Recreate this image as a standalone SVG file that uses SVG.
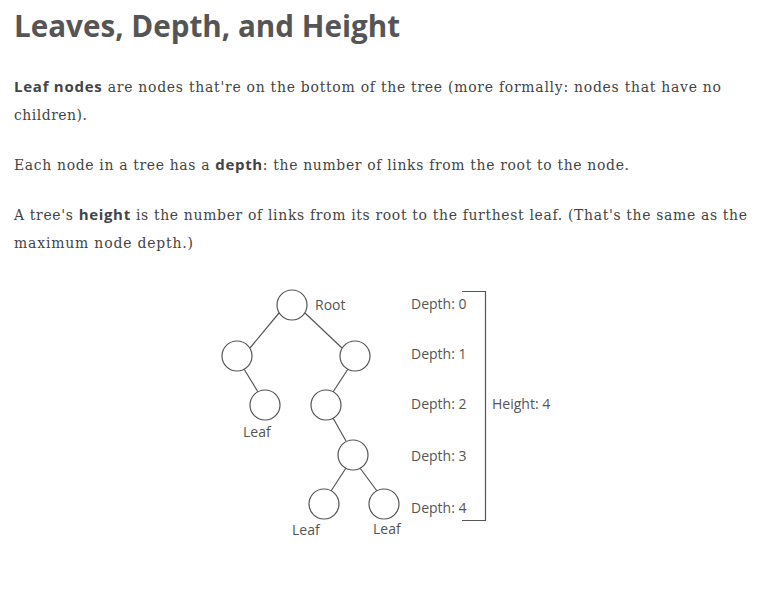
<svg xmlns="http://www.w3.org/2000/svg" width="766" height="607" viewBox="0 0 766 607">
<style>
.h{font-family:"Open Sans",Lato,sans-serif;font-weight:bold;font-size:30px;fill:#555}
.p{font-family:"DejaVu Serif Condensed","Liberation Serif",serif;font-size:15.5px;fill:#444}
.b{font-family:"Open Sans",sans-serif;font-weight:bold;font-size:15px}
.l{font-family:"Open Sans",sans-serif;font-size:14px;fill:#555}
.n circle{fill:#fff;stroke:#555;stroke-width:1.2}
.c line,.c path{stroke:#555;stroke-width:1.2;fill:none}
</style>
<rect width="766" height="607" fill="#fff"/>
<text class="h" x="14" y="37" textLength="386" lengthAdjust="spacingAndGlyphs">Leaves, Depth, and Height</text>
<text class="p" x="14" y="92" textLength="707"><tspan class="b">Leaf nodes</tspan> are nodes that're on the bottom of the tree (more formally: nodes that have no</text>
<text class="p" x="14" y="120" textLength="73">children).</text>
<text class="p" x="14" y="170" textLength="615"><tspan>Each node in a tree has a </tspan><tspan class="b">depth</tspan>: the number of links from the root to the node.</text>
<text class="p" x="14" y="220" textLength="733">A tree's <tspan class="b">height</tspan> is the number of links from its root to the furthest leaf. (That's the same as the</text>
<text class="p" x="14" y="248" textLength="179">maximum node depth.)</text>
<g class="c" id="connectors">
<line x1="279" y1="313" x2="250" y2="348"/>
<line x1="305" y1="313" x2="342" y2="348"/>
<line x1="244" y1="369" x2="258" y2="392"/>
<line x1="348" y1="369" x2="333" y2="392"/>
<line x1="333" y1="418" x2="346" y2="441"/>
<line x1="346" y1="468" x2="331" y2="491"/>
<line x1="360" y1="468" x2="377" y2="491"/>
<path d="M462 291.5H485.5V520.5H462"/>
</g>
<g class="n" id="root"><circle cx="292" cy="305" r="15"/><text class="l" x="315" y="310">Root</text></g>
<g class="n" id="n1"><circle cx="237" cy="356" r="15"/></g>
<g class="n" id="n2"><circle cx="355" cy="356" r="15"/></g>
<g class="n" id="n3"><circle cx="265" cy="405" r="15"/><text class="l" x="243" y="437">Leaf</text></g>
<g class="n" id="n4"><circle cx="326" cy="405" r="15"/></g>
<g class="n" id="n5"><circle cx="353" cy="455" r="15"/></g>
<g class="n" id="n6"><circle cx="324" cy="504" r="15"/><text class="l" x="292" y="535">Leaf</text></g>
<g class="n" id="n7"><circle cx="384" cy="504" r="15"/><text class="l" x="373" y="534">Leaf</text></g>
<g id="labels">
<text class="l" x="411" y="309">Depth: 0</text>
<text class="l" x="411" y="359">Depth: 1</text>
<text class="l" x="411" y="409">Depth: 2</text>
<text class="l" x="411" y="461">Depth: 3</text>
<text class="l" x="411" y="513">Depth: 4</text>
<text class="l" x="492" y="409">Height: 4</text>
</g>
</svg>
